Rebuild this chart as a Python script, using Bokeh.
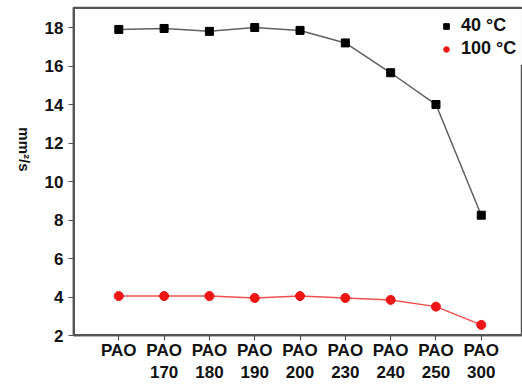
import math
from bokeh.plotting import figure
from bokeh.models import (Range1d, FixedTicker, Legend, LegendItem)
from bokeh.embed import file_html
from bokeh.resources import INLINE

# ---- data ----
samples = ["PAO", "PAO\n170", "PAO\n180", "PAO\n190", "PAO\n200",
           "PAO\n230", "PAO\n240", "PAO\n250", "PAO\n300"]
positions = [1, 2, 3, 4, 5, 6, 7, 8, 9]
visc_40 = [17.9, 17.95, 17.8, 18.0, 17.85, 17.2, 15.65, 14.0, 8.25]
visc_100 = [4.05, 4.05, 4.05, 3.95, 4.05, 3.95, 3.85, 3.5, 2.55]
y_ticks = [2, 4, 6, 8, 10, 12, 14, 16, 18]

AX = "#555555"
TXT = "#111111"

xr = Range1d(0, 9.91)
yr = Range1d(2, 19.04)

p = figure(width=522, height=385, output_backend="svg", toolbar_location=None,
           x_range=xr, y_range=yr,
           min_border_left=73, min_border_right=0, min_border_top=7,
           min_border_bottom=40)
p.outline_line_color = AX
p.outline_line_width = 1.5
p.grid.visible = False

xax = p.below[0]
yax = p.left[0]

for ax in (xax, yax):
    ax.axis_line_color = AX
    ax.axis_line_width = 1.5
    ax.major_tick_line_color = AX
    ax.major_tick_line_width = 1.2
    ax.major_tick_in = 0
    ax.major_tick_out = 5
    ax.major_label_text_font_style = "bold"
    ax.major_label_text_color = TXT

xax.ticker = FixedTicker(ticks=positions)
xax.major_label_overrides = {pos: lab for pos, lab in zip(positions, samples)}
xax.major_label_text_font_size = "17px"
xax.major_label_standoff = 0

yax.ticker = FixedTicker(ticks=y_ticks)
yax.major_label_text_font_size = "17px"
yax.major_label_standoff = 5
yax.axis_label = "mm²/s"
yax.axis_label_text_font_style = "bold"
yax.axis_label_text_font_size = "15px"
yax.axis_label_text_color = TXT
yax.axis_label_standoff = 17
yax.axis_label_orientation = -math.pi / 2

# frame edges (top, left, bottom) drawn from the range bounds, as a fallback
edge_x = [xr.start, xr.end]
edge_y = [yr.start, yr.end]
p.line(edge_x, [yr.end, yr.end], line_color=AX, line_width=3)
p.line([xr.start, xr.start], edge_y, line_color=AX, line_width=3)
p.line(edge_x, [yr.start, yr.start], line_color=AX, line_width=3)

l1 = p.line(positions, visc_40, line_color="#606060", line_width=1.5)
m1 = p.scatter(positions, visc_40, marker="square", size=8, fill_color="black",
               line_color="black")
l2 = p.line(positions, visc_100, line_color="#f05050", line_width=1.5)
m2 = p.scatter(positions, visc_100, marker="circle", size=9, fill_color="#ee1515",
               line_color="#ee1515")

legend = Legend(items=[LegendItem(label="40 °C", renderers=[m1]),
                       LegendItem(label="100 °C", renderers=[m2])],
                location=(360, 270))
legend.border_line_color = "white"
legend.background_fill_color = "white"
legend.label_text_font_style = "bold"
legend.label_text_font_size = "18px"
legend.label_text_color = TXT
legend.glyph_width = 14
legend.glyph_height = 20
legend.label_height = 20
legend.spacing = 2
legend.padding = 5
legend.label_standoff = 8
p.add_layout(legend)

open("out.html", "w").write(file_html(p, INLINE))
